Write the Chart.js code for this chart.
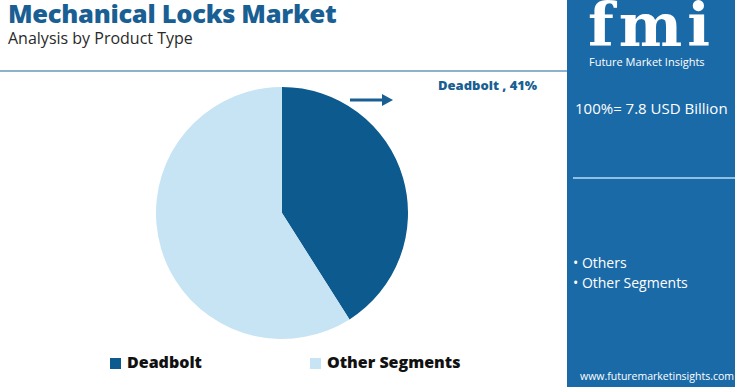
<!DOCTYPE html>
<html><head><meta charset="utf-8">
<script src="https://cdn.jsdelivr.net/npm/chart.js@4"></script>
<style>
html,body{margin:0;padding:0;width:735px;height:387px;overflow:hidden;background:#fff;font-family:"Open Sans",Lato,sans-serif;}
.abs{position:absolute;}
#title{left:8px;top:-4px;font-size:25.5px;font-weight:800;color:#1a5f93;letter-spacing:-0.3px;white-space:nowrap;}
#sub{left:8px;top:27px;font-size:16px;color:#2a2a2a;white-space:nowrap;}
#hline{left:0;top:70px;width:568px;height:2px;background:#8db3cc;}
#panel{left:567px;top:0;width:168px;height:387px;background:#1b6aa8;}
#logo{left:588px;top:-10px;font-family:"DejaVu Serif",serif;font-weight:bold;font-size:60px;color:#fff;letter-spacing:5px;}
#logosub{left:589px;top:54px;font-size:11px;color:#fff;white-space:nowrap;}
#total{left:575px;top:98px;font-size:15px;color:#fff;white-space:nowrap;}
#pline{left:573px;top:177px;width:162px;height:1.5px;background:#8fc0e3;}
#segs{left:573px;top:253px;font-size:14px;color:#fff;line-height:20px;white-space:nowrap;}
#web{left:580px;top:369px;font-size:10.5px;color:#fff;white-space:nowrap;}
#lbl{left:438px;top:76px;font-size:13px;font-weight:800;color:#1a5f93;white-space:nowrap;}
#arrow{left:348px;top:92px;}
#legend{left:110px;top:351px;font-size:16px;font-weight:800;color:#111;white-space:nowrap;}
#legend span.item{position:absolute;top:0;}
#legend span.box{display:inline-block;width:11px;height:11px;margin-right:6px;vertical-align:-1px;}
#wrap{left:156px;top:87px;width:252px;height:252px;}
</style></head><body>
<div id="title" class="abs">Mechanical Locks Market</div>
<div id="sub" class="abs">Analysis by Product Type</div>
<div id="hline" class="abs"></div>
<div id="panel" class="abs"></div>
<div id="logo" class="abs">fmi</div>
<div id="logosub" class="abs">Future Market Insights</div>
<div id="total" class="abs">100%= 7.8 USD Billion</div>
<div id="pline" class="abs"></div>
<div id="segs" class="abs"></div>
<div id="web" class="abs">www.futuremarketinsights.com</div>
<div id="lbl" class="abs"></div>
<svg id="arrow" class="abs" width="48" height="16"><line x1="2" y1="8" x2="36" y2="8" stroke="#1a5f93" stroke-width="3"/><polygon points="34,2 45,8 34,14" fill="#1a5f93"/></svg>
<div id="legend" class="abs"></div>
<div id="wrap" class="abs"><canvas id="c"></canvas></div>
<script>
const categories = ["Deadbolt", "Other Segments"];
const values = [41, 59];
const colors = ["#0d5a8f", "#c6e4f4"];
const panelSegments = ["Others", "Other Segments"];
const totalLabel = "100%= 7.8 USD Billion";

document.getElementById('lbl').textContent = categories[0] + " , " + values[0] + "%";
document.getElementById('total').textContent = totalLabel;
document.getElementById('segs').innerHTML = panelSegments.map(s => "• " + s).join("<br>");
const lg = document.getElementById('legend');
const legX = [0, 200];
categories.forEach((c, i) => {
  const s = document.createElement('span');
  s.className = 'item';
  s.style.left = legX[i] + 'px';
  s.innerHTML = '<span class="box" style="background:' + colors[i] + '"></span>' + c;
  lg.appendChild(s);
});

new Chart(document.getElementById('c'), {
  type: 'pie',
  data: { labels: categories, datasets: [{ data: values, backgroundColor: colors, borderWidth: 0 }] },
  options: {
    responsive: true, maintainAspectRatio: false, animation: false,
    layout: { padding: 0 },
    plugins: { legend: { display: false }, tooltip: { enabled: false } }
  }
});
</script>
</body></html>
